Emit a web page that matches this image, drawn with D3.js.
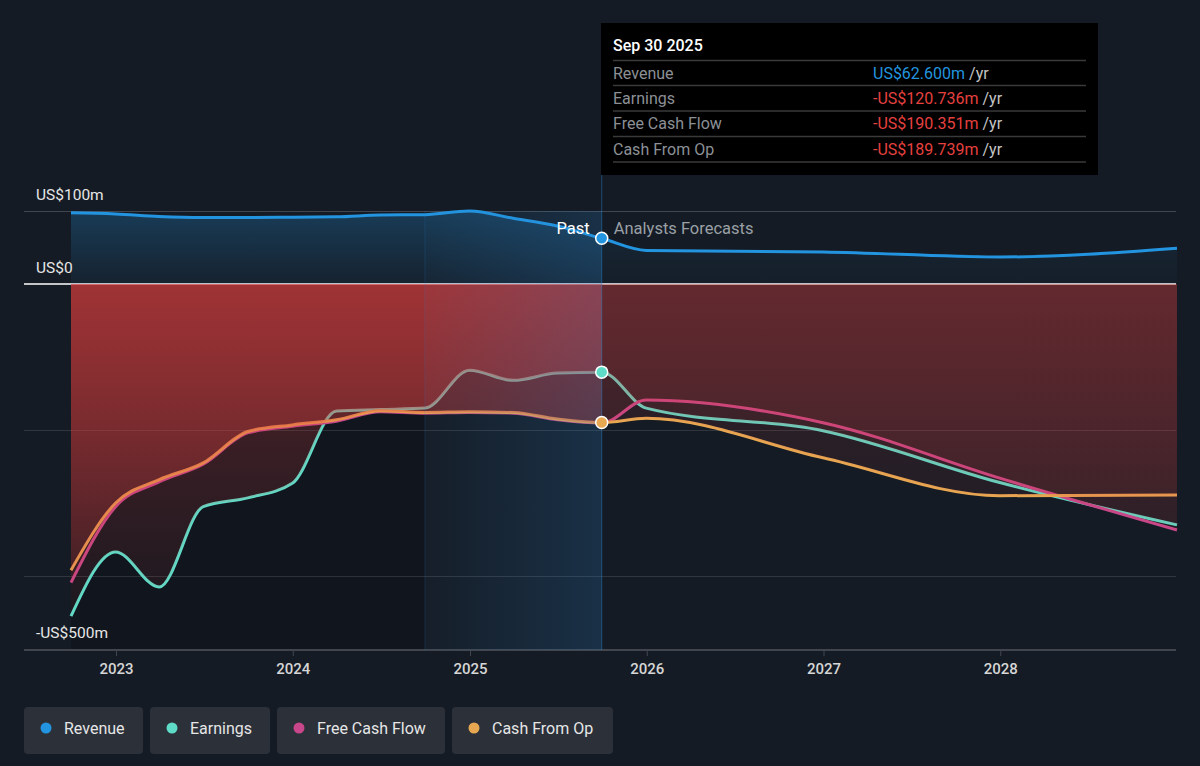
<!DOCTYPE html>
<html>
<head>
<meta charset="utf-8">
<script src="https://cdn.jsdelivr.net/npm/d3@7/dist/d3.min.js"></script>
<style>
  html, body { margin: 0; padding: 0; background: #151b24; }
  svg { display: block; font-family: Roboto, "Noto Sans", sans-serif; }
</style>
</head>
<body>
<div id="chart"></div>
<script>
// data, US$ millions
var pastDates = ["2022-09-30","2022-12-31","2023-03-31","2023-06-30","2023-09-30","2023-12-31",
                 "2024-03-31","2024-06-30","2024-09-30","2024-12-31","2025-03-31","2025-06-30","2025-09-30"];
var forecastDates = ["2025-09-30","2025-12-31","2026-12-31","2027-12-31","2028-12-31"];

var revenuePast  = [97.5, 96, 92.5, 91, 91, 91.5, 92, 94.5, 95, 100, 90, 79.5, 62.6];
var earningsPast = [-455, -367, -415, -305, -293, -273, -174, -172, -170, -118, -132, -122, -120.736];
var fcfPast      = [-409, -305, -271, -247, -204, -195, -188, -175, -177, -176, -177, -186, -190.351];
var cfoPast      = [-392, -300, -268, -245, -202, -193, -186, -173.5, -176, -175, -176, -185, -189.739];

var revenueFc  = [62.6, 46, 44, 37, 49];
var earningsFc = [-120.736, -170, -201, -272, -330];
var fcfFc      = [-190.351, -159, -190, -266, -337];
var cfoFc      = [-189.739, -184, -238, -290, -289];

var yTicks = [100, 0, -500];
var yTickLabels = ["US$100m", "US$0", "-US$500m"];
var gridValues = [-200, -400];
var xTickYears = [2023, 2024, 2025, 2026, 2027, 2028];

var series = [
    {name: "Revenue", color: "#2394df", past: revenuePast, fc: revenueFc},
    {name: "Earnings", color: "#5fdcc8", past: earningsPast, fc: earningsFc},
    {name: "Free Cash Flow", color: "#c7478a", past: fcfPast, fc: fcfFc},
    {name: "Cash From Op", color: "#e8a852", past: cfoPast, fc: cfoFc}
];
var tipTitle = "Sep 30 2025";
var tipValues = ["US$62.600m", "-US$120.736m", "-US$190.351m", "-US$189.739m"];

var W = 1200, H = 766;
var parse = d3.timeParse("%Y-%m-%d");

var x = d3.scaleTime()
    .domain([parse("2022-09-30"), parse("2028-12-31")])
    .range([71, 1177]);
var y = d3.scaleLinear().domain([-500, 100]).range([649, 211]);

var nowX = x(parse("2025-09-30"));
var bandX = x(parse("2024-09-30"));
var left = 24, right = 1176;

series.forEach(function(s) {
    s.points = pastDates.map(function(d, i) { return {date: parse(d), v: s.past[i]}; })
        .concat(forecastDates.slice(1).map(function(d, i) { return {date: parse(d), v: s.fc[i + 1]}; }));
});

var svg = d3.select("#chart").append("svg").attr("width", W).attr("height", H);
var defs = svg.append("defs");

function vGrad(id, color, y1, y2, o1, o2) {
    var g = defs.append("linearGradient").attr("id", id)
        .attr("gradientUnits", "userSpaceOnUse")
        .attr("x1", 0).attr("x2", 0).attr("y1", y1).attr("y2", y2);
    g.append("stop").attr("offset", 0).attr("stop-color", color).attr("stop-opacity", o1);
    g.append("stop").attr("offset", 1).attr("stop-color", color).attr("stop-opacity", o2);
}
vGrad("redPast", "#e0403f", y(0), y(-500), 0.32, 0.03);
vGrad("redFc", "#e0403f", y(0), y(-500), 0.15, 0.02);
vGrad("bluePast", "#2394df", y(100), y(0), 0.27, 0.06);
vGrad("blueFc", "#2394df", y(100), y(0), 0.10, 0.03);

var bg = defs.append("linearGradient").attr("id", "band")
    .attr("gradientUnits", "userSpaceOnUse")
    .attr("x1", bandX).attr("x2", nowX).attr("y1", 0).attr("y2", 0);
bg.append("stop").attr("offset", 0).attr("stop-color", "#2a86d0").attr("stop-opacity", 0.03);
bg.append("stop").attr("offset", 1).attr("stop-color", "#2a86d0").attr("stop-opacity", 0.2);

defs.append("clipPath").attr("id", "clipPast").append("rect")
    .attr("x", 0).attr("y", 0).attr("width", nowX).attr("height", H);
defs.append("clipPath").attr("id", "clipFc").append("rect")
    .attr("x", nowX).attr("y", 0).attr("width", W - nowX).attr("height", H);

svg.append("rect").attr("width", W).attr("height", H).attr("fill", "#151b24");

// darker past region
svg.append("rect")
    .attr("x", x(parse("2022-09-30"))).attr("y", y(0))
    .attr("width", bandX - x(parse("2022-09-30"))).attr("height", y(-500) - y(0) + 1)
    .attr("fill", "#000").attr("opacity", 0.15);

// grid
svg.append("g").selectAll("line").data([100].concat(gridValues)).enter().append("line")
    .attr("x1", left).attr("x2", right)
    .attr("y1", function(d) { return y(d) + 0.5; }).attr("y2", function(d) { return y(d) + 0.5; })
    .attr("stroke", function(d) { return d === 100 ? "#41464e" : "rgba(255,255,255,0.12)"; })
    .attr("stroke-width", 1);

svg.append("line").attr("x1", left).attr("x2", right)
    .attr("y1", y(0)).attr("y2", y(0))
    .attr("stroke", "#ffffff").attr("stroke-width", 1.5);

// x axis
var xAxis = d3.axisBottom(x)
    .tickValues(xTickYears.map(function(yr) { return new Date(yr, 0, 1); }))
    .tickFormat(d3.timeFormat("%Y"))
    .tickSize(6).tickPadding(7);
var ax = svg.append("g").attr("transform", "translate(0," + 650 + ")").call(xAxis);
ax.select(".domain").remove();
ax.selectAll(".tick line").attr("stroke", "#41464e");
ax.selectAll(".tick text").attr("fill", "#d6d6d6").attr("font-size", 15)
    .attr("font-weight", 500).attr("font-family", "Roboto, sans-serif");
svg.append("line").attr("x1", left).attr("x2", right).attr("y1", 650).attr("y2", 650)
    .attr("stroke", "#41464e").attr("stroke-width", 2);

var line = d3.line()
    .x(function(d) { return x(d.date); })
    .y(function(d) { return y(d.v); })
    .curve(d3.curveMonotoneX);
var area = d3.area()
    .x(function(d) { return x(d.date); })
    .y0(y(0))
    .y1(function(d) { return y(d.v); })
    .curve(d3.curveMonotoneX);

// lines
series.forEach(function(s) {
    svg.append("path").datum(s.points)
        .attr("d", line)
        .attr("fill", "none")
        .attr("stroke", s.color)
        .attr("stroke-width", 3)
        .attr("stroke-linejoin", "round");
});

// fills on top of the lines
series.forEach(function(s, i) {
    var past = i === 0 ? "url(#bluePast)" : "url(#redPast)";
    var fc = i === 0 ? "url(#blueFc)" : "url(#redFc)";
    svg.append("path").datum(s.points).attr("d", area)
        .attr("fill", past).attr("clip-path", "url(#clipPast)");
    svg.append("path").datum(s.points).attr("d", area)
        .attr("fill", fc).attr("clip-path", "url(#clipFc)");
});

// last year band
svg.append("rect").attr("x", bandX).attr("y", y(100))
    .attr("width", nowX - bandX).attr("height", 650 - y(100))
    .attr("fill", "url(#band)");
svg.append("line").attr("x1", bandX).attr("x2", bandX).attr("y1", y(100)).attr("y2", 650)
    .attr("stroke", "#2a86d0").attr("stroke-opacity", 0.18);
svg.append("line").attr("x1", nowX).attr("x2", nowX).attr("y1", 175).attr("y2", 650)
    .attr("stroke", "#2a86d0").attr("stroke-opacity", 0.45);

// y labels
svg.append("g").selectAll("text").data(yTicks).enter().append("text")
    .attr("x", 36).attr("y", function(d) { return y(d) - 11; })
    .attr("fill", "#e6e6e6").attr("font-size", 15.5)
    .text(function(d, i) { return yTickLabels[i]; });

svg.append("text").attr("x", nowX - 12).attr("y", 234).attr("text-anchor", "end")
    .attr("fill", "#ffffff").attr("font-size", 16.5).text("Past");
svg.append("text").attr("x", nowX + 12).attr("y", 234)
    .attr("fill", "#9aa0a6").attr("font-size", 16.5).text("Analysts Forecasts");

// markers at the last reported point
[series[0], series[1], series[3]].forEach(function(s) {
    svg.append("circle").attr("cx", nowX).attr("cy", y(s.past[s.past.length - 1]))
        .attr("r", 6).attr("fill", s.color).attr("stroke", "#fff").attr("stroke-width", 1.5);
});

// tooltip
var tip = svg.append("g").attr("transform", "translate(601,23)");
tip.append("rect").attr("width", 497).attr("height", 152).attr("fill", "#000");
tip.append("text").attr("x", 12).attr("y", 28).attr("fill", "#fff")
    .attr("font-size", 16).attr("font-weight", 500).text(tipTitle);
var rowY = [37.5, 62.5, 88, 113.5, 139];
rowY.forEach(function(ry) {
    tip.append("line").attr("x1", 12).attr("x2", 485).attr("y1", ry).attr("y2", ry)
        .attr("stroke", "#3a3a3a").attr("stroke-width", 1.5);
});
series.forEach(function(s, i) {
    var by = rowY[i] + 18;
    tip.append("text").attr("x", 12).attr("y", by).attr("fill", "#8c9096")
        .attr("font-size", 16).text(s.name);
    var t = tip.append("text").attr("x", 272).attr("y", by).attr("font-size", 16);
    t.append("tspan").attr("fill", i === 0 ? "#2394df" : "#e5413f").text(tipValues[i]);
    t.append("tspan").attr("fill", "#c4c4c4").text(" /yr");
});

// legend
var legendX = [24, 150, 277, 452];
var legendW = [119, 120, 168, 161];
var lg = svg.append("g");
series.forEach(function(s, i) {
    var g = lg.append("g").attr("transform", "translate(" + legendX[i] + ",707)");
    g.append("rect").attr("width", legendW[i]).attr("height", 47).attr("rx", 4).attr("fill", "#2b3039");
    g.append("circle").attr("cx", 22).attr("cy", 21).attr("r", 5.5).attr("fill", s.color);
    g.append("text").attr("x", 40).attr("y", 26.5).attr("fill", "#e6e6e6")
        .attr("font-size", 16).text(s.name);
});
</script>
</body>
</html>
